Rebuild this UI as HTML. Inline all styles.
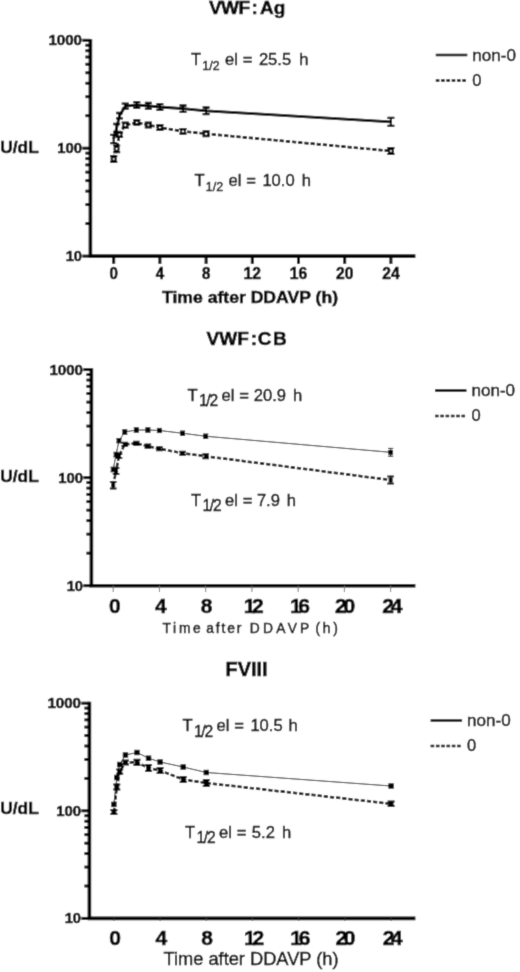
<!DOCTYPE html>
<html><head><meta charset="utf-8"><title>VWF:Ag, VWF:CB, FVIII after DDAVP</title>
<style>
html,body{margin:0;padding:0;background:#fff;}
svg{display:block;font-family:"Liberation Sans", Arial, sans-serif;}
svg text{fill:#000;}
.fig{width:520px;height:972px;overflow:hidden;}
</style></head><body>
<div class="fig"><svg width="520" height="972" viewBox="0 0 520 972">
<defs><filter id="soft" x="0" y="0" width="520" height="972" filterUnits="userSpaceOnUse"><feConvolveMatrix order="3" kernelMatrix="0.0192 0.1001 0.0192 0.1001 0.5228 0.1001 0.0192 0.1001 0.0192" edgeMode="duplicate" preserveAlpha="true"/></filter></defs>
<rect width="520" height="972" fill="#fff"/>
<g filter="url(#soft)">
<rect width="520" height="972" fill="#fff"/>
<path d="M90.4 38.9 V256.1 H415.4" fill="none" stroke="#000" stroke-width="3.6" stroke-linejoin="miter"/>
<line x1="82.4" x2="90.4" y1="40.30" y2="40.30" stroke="#000" stroke-width="3"/>
<line x1="82.4" x2="90.4" y1="148.20" y2="148.20" stroke="#000" stroke-width="3"/>
<line x1="82.4" x2="90.4" y1="256.10" y2="256.10" stroke="#000" stroke-width="3"/>
<line x1="85.4" x2="90.4" y1="115.72" y2="115.72" stroke="#000" stroke-width="2.9"/>
<line x1="85.4" x2="90.4" y1="96.72" y2="96.72" stroke="#000" stroke-width="2.9"/>
<line x1="85.4" x2="90.4" y1="83.24" y2="83.24" stroke="#000" stroke-width="2.9"/>
<line x1="85.4" x2="90.4" y1="72.78" y2="72.78" stroke="#000" stroke-width="2.9"/>
<line x1="85.4" x2="90.4" y1="64.24" y2="64.24" stroke="#000" stroke-width="2.9"/>
<line x1="85.4" x2="90.4" y1="57.01" y2="57.01" stroke="#000" stroke-width="2.9"/>
<line x1="85.4" x2="90.4" y1="50.76" y2="50.76" stroke="#000" stroke-width="2.9"/>
<line x1="85.4" x2="90.4" y1="45.24" y2="45.24" stroke="#000" stroke-width="2.9"/>
<line x1="85.4" x2="90.4" y1="223.62" y2="223.62" stroke="#000" stroke-width="2.9"/>
<line x1="85.4" x2="90.4" y1="204.62" y2="204.62" stroke="#000" stroke-width="2.9"/>
<line x1="85.4" x2="90.4" y1="191.14" y2="191.14" stroke="#000" stroke-width="2.9"/>
<line x1="85.4" x2="90.4" y1="180.68" y2="180.68" stroke="#000" stroke-width="2.9"/>
<line x1="85.4" x2="90.4" y1="172.14" y2="172.14" stroke="#000" stroke-width="2.9"/>
<line x1="85.4" x2="90.4" y1="164.91" y2="164.91" stroke="#000" stroke-width="2.9"/>
<line x1="85.4" x2="90.4" y1="158.66" y2="158.66" stroke="#000" stroke-width="2.9"/>
<line x1="85.4" x2="90.4" y1="153.14" y2="153.14" stroke="#000" stroke-width="2.9"/>
<line x1="113.70" x2="113.70" y1="256.1" y2="263.90000000000003" stroke="#000" stroke-width="3"/>
<line x1="159.90" x2="159.90" y1="256.1" y2="263.90000000000003" stroke="#000" stroke-width="3"/>
<line x1="206.10" x2="206.10" y1="256.1" y2="263.90000000000003" stroke="#000" stroke-width="3"/>
<line x1="252.30" x2="252.30" y1="256.1" y2="263.90000000000003" stroke="#000" stroke-width="3"/>
<line x1="298.50" x2="298.50" y1="256.1" y2="263.90000000000003" stroke="#000" stroke-width="3"/>
<line x1="344.70" x2="344.70" y1="256.1" y2="263.90000000000003" stroke="#000" stroke-width="3"/>
<line x1="390.90" x2="390.90" y1="256.1" y2="263.90000000000003" stroke="#000" stroke-width="3"/>
<text x="82.0" y="45.2" font-size="15.5" font-weight="bold" text-anchor="end" textLength="33.6" lengthAdjust="spacingAndGlyphs" stroke="#000" stroke-width="0.55">1000</text>
<text x="82.0" y="153.1" font-size="15.5" font-weight="bold" text-anchor="end" textLength="24.8" lengthAdjust="spacingAndGlyphs" stroke="#000" stroke-width="0.55">100</text>
<text x="82.0" y="261.0" font-size="15.5" font-weight="bold" text-anchor="end" textLength="16.3" lengthAdjust="spacingAndGlyphs" stroke="#000" stroke-width="0.55">10</text>
<text x="113.7" y="279.3" font-size="16.3" font-weight="bold" text-anchor="middle" textLength="8.4" lengthAdjust="spacingAndGlyphs" stroke="#000" stroke-width="0.55">0</text>
<text x="159.9" y="279.3" font-size="16.3" font-weight="bold" text-anchor="middle" textLength="8.4" lengthAdjust="spacingAndGlyphs" stroke="#000" stroke-width="0.55">4</text>
<text x="206.1" y="279.3" font-size="16.3" font-weight="bold" text-anchor="middle" textLength="8.4" lengthAdjust="spacingAndGlyphs" stroke="#000" stroke-width="0.55">8</text>
<text x="252.3" y="279.3" font-size="16.3" font-weight="bold" text-anchor="middle" textLength="17.4" lengthAdjust="spacingAndGlyphs" stroke="#000" stroke-width="0.55">12</text>
<text x="298.5" y="279.3" font-size="16.3" font-weight="bold" text-anchor="middle" textLength="17.4" lengthAdjust="spacingAndGlyphs" stroke="#000" stroke-width="0.55">16</text>
<text x="344.7" y="279.3" font-size="16.3" font-weight="bold" text-anchor="middle" textLength="17.4" lengthAdjust="spacingAndGlyphs" stroke="#000" stroke-width="0.55">20</text>
<text x="390.9" y="279.3" font-size="16.3" font-weight="bold" text-anchor="middle" textLength="17.4" lengthAdjust="spacingAndGlyphs" stroke="#000" stroke-width="0.55">24</text>
<path d="M113.70 139.00 L116.59 128.00 L119.48 115.70 L125.25 106.20 L136.80 105.00 L148.35 105.80 L159.90 107.00 L183.00 108.70 L206.10 110.80 L390.90 121.90" fill="none" stroke="#000" stroke-width="2.8" stroke-linejoin="round"/>
<path d="M113.70 134.80 V143.20" stroke="#000" stroke-width="2.2" fill="none"/>
<path d="M110.20 134.80 H117.20 M110.20 143.20 H117.20" stroke="#000" stroke-width="2.3" fill="none"/>
<path d="M116.59 124.00 V132.00" stroke="#000" stroke-width="2.2" fill="none"/>
<path d="M113.09 124.00 H120.09 M113.09 132.00 H120.09" stroke="#000" stroke-width="2.3" fill="none"/>
<path d="M119.48 113.00 V118.40" stroke="#000" stroke-width="2.2" fill="none"/>
<path d="M115.98 113.00 H122.98 M115.98 118.40 H122.98" stroke="#000" stroke-width="2.3" fill="none"/>
<path d="M125.25 103.70 V108.70" stroke="#000" stroke-width="2.2" fill="none"/>
<path d="M121.75 103.70 H128.75 M121.75 108.70 H128.75" stroke="#000" stroke-width="2.3" fill="none"/>
<path d="M136.80 102.10 V107.90" stroke="#000" stroke-width="2.2" fill="none"/>
<path d="M133.30 102.10 H140.30 M133.30 107.90 H140.30" stroke="#000" stroke-width="2.3" fill="none"/>
<path d="M148.35 103.00 V108.60" stroke="#000" stroke-width="2.2" fill="none"/>
<path d="M144.85 103.00 H151.85 M144.85 108.60 H151.85" stroke="#000" stroke-width="2.3" fill="none"/>
<path d="M159.90 104.10 V109.90" stroke="#000" stroke-width="2.2" fill="none"/>
<path d="M156.40 104.10 H163.40 M156.40 109.90 H163.40" stroke="#000" stroke-width="2.3" fill="none"/>
<path d="M183.00 105.50 V111.90" stroke="#000" stroke-width="2.2" fill="none"/>
<path d="M179.50 105.50 H186.50 M179.50 111.90 H186.50" stroke="#000" stroke-width="2.3" fill="none"/>
<path d="M206.10 107.50 V114.10" stroke="#000" stroke-width="2.2" fill="none"/>
<path d="M202.60 107.50 H209.60 M202.60 114.10 H209.60" stroke="#000" stroke-width="2.3" fill="none"/>
<path d="M390.90 117.90 V125.90" stroke="#000" stroke-width="2.2" fill="none"/>
<path d="M387.40 117.90 H394.40 M387.40 125.90 H394.40" stroke="#000" stroke-width="2.3" fill="none"/>
<path d="M113.70 159.00 L116.59 148.80 L119.48 134.70 L125.25 125.10 L136.80 122.50 L148.35 125.00 L159.90 127.50 L183.00 131.30 L206.10 133.80 L390.90 151.00" fill="none" stroke="#000" stroke-width="2.6" stroke-dasharray="4.2 2" stroke-linejoin="round"/>
<path d="M113.70 156.20 V161.80" stroke="#000" stroke-width="2.2" fill="none"/>
<path d="M110.10 156.20 H117.30 M110.10 161.80 H117.30" stroke="#000" stroke-width="2.2" fill="none"/>
<rect x="111.70" y="157.10" width="4.0" height="3.8" rx="1" fill="#fff" stroke="#000" stroke-width="2.1"/>
<path d="M116.59 145.50 V152.10" stroke="#000" stroke-width="2.2" fill="none"/>
<path d="M112.99 145.50 H120.19 M112.99 152.10 H120.19" stroke="#000" stroke-width="2.2" fill="none"/>
<rect x="114.59" y="146.90" width="4.0" height="3.8" rx="1" fill="#fff" stroke="#000" stroke-width="2.1"/>
<path d="M119.48 132.40 V137.00" stroke="#000" stroke-width="2.2" fill="none"/>
<path d="M115.88 132.40 H123.08 M115.88 137.00 H123.08" stroke="#000" stroke-width="2.2" fill="none"/>
<rect x="117.48" y="132.80" width="4.0" height="3.8" rx="1" fill="#fff" stroke="#000" stroke-width="2.1"/>
<path d="M125.25 122.50 V127.70" stroke="#000" stroke-width="2.2" fill="none"/>
<path d="M121.65 122.50 H128.85 M121.65 127.70 H128.85" stroke="#000" stroke-width="2.2" fill="none"/>
<rect x="123.25" y="123.20" width="4.0" height="3.8" rx="1" fill="#fff" stroke="#000" stroke-width="2.1"/>
<path d="M136.80 120.30 V124.70" stroke="#000" stroke-width="2.2" fill="none"/>
<path d="M133.20 120.30 H140.40 M133.20 124.70 H140.40" stroke="#000" stroke-width="2.2" fill="none"/>
<rect x="134.80" y="120.60" width="4.0" height="3.8" rx="1" fill="#fff" stroke="#000" stroke-width="2.1"/>
<path d="M148.35 122.70 V127.30" stroke="#000" stroke-width="2.2" fill="none"/>
<path d="M144.75 122.70 H151.95 M144.75 127.30 H151.95" stroke="#000" stroke-width="2.2" fill="none"/>
<rect x="146.35" y="123.10" width="4.0" height="3.8" rx="1" fill="#fff" stroke="#000" stroke-width="2.1"/>
<path d="M159.90 125.20 V129.80" stroke="#000" stroke-width="2.2" fill="none"/>
<path d="M156.30 125.20 H163.50 M156.30 129.80 H163.50" stroke="#000" stroke-width="2.2" fill="none"/>
<rect x="157.90" y="125.60" width="4.0" height="3.8" rx="1" fill="#fff" stroke="#000" stroke-width="2.1"/>
<path d="M183.00 129.00 V133.60" stroke="#000" stroke-width="2.2" fill="none"/>
<path d="M179.40 129.00 H186.60 M179.40 133.60 H186.60" stroke="#000" stroke-width="2.2" fill="none"/>
<rect x="181.00" y="129.40" width="4.0" height="3.8" rx="1" fill="#fff" stroke="#000" stroke-width="2.1"/>
<path d="M206.10 131.40 V136.20" stroke="#000" stroke-width="2.2" fill="none"/>
<path d="M202.50 131.40 H209.70 M202.50 136.20 H209.70" stroke="#000" stroke-width="2.2" fill="none"/>
<rect x="204.10" y="131.90" width="4.0" height="3.8" rx="1" fill="#fff" stroke="#000" stroke-width="2.1"/>
<path d="M390.90 148.00 V154.00" stroke="#000" stroke-width="2.2" fill="none"/>
<path d="M387.30 148.00 H394.50 M387.30 154.00 H394.50" stroke="#000" stroke-width="2.2" fill="none"/>
<rect x="388.90" y="149.10" width="4.0" height="3.8" rx="1" fill="#fff" stroke="#000" stroke-width="2.1"/>
<line x1="435.8" x2="467.3" y1="55" y2="55" stroke="#000" stroke-width="2.6"/>
<line x1="435.8" x2="467.3" y1="80.5" y2="80.5" stroke="#000" stroke-width="2.4" stroke-dasharray="3.6 1.7"/>
<text x="472.3" y="60.8" font-size="17" font-weight="normal" text-anchor="start" textLength="43.6" lengthAdjust="spacingAndGlyphs" stroke="#000" stroke-width="0.4">non-0</text>
<text x="472.3" y="85.8" font-size="17" font-weight="normal" text-anchor="start" textLength="9.2" lengthAdjust="spacingAndGlyphs" stroke="#000" stroke-width="0.4">0</text>
<text x="0.3" y="152.7" font-size="17.0" font-weight="bold" text-anchor="start" textLength="38.4" lengthAdjust="spacingAndGlyphs" stroke="#000" stroke-width="0.55">U/dL</text>
<text x="209.0" y="14.4" font-size="19" font-weight="bold" text-anchor="start" stroke="#000" stroke-width="0.55"><tspan letter-spacing="-0.6">VWF</tspan><tspan dx="2.2">:</tspan><tspan dx="2.0">Ag</tspan></text>
<text x="191.0" y="64.5" font-size="16.6" stroke="#000" stroke-width="0.4">T<tspan x="202.3" dy="5" font-size="12.4">1/2</tspan><tspan x="225.0" dy="-5">el</tspan><tspan x="242.8">=</tspan><tspan x="258.9">25.5</tspan><tspan x="299.17">h</tspan></text>
<text x="194.5" y="185.7" font-size="16.6" stroke="#000" stroke-width="0.4">T<tspan x="205.8" dy="5" font-size="12.4">1/2</tspan><tspan x="228.5" dy="-5">el</tspan><tspan x="246.3">=</tspan><tspan x="262.4">10.0</tspan><tspan x="301.67">h</tspan></text>
<text x="162.0" y="303" font-size="17.4" font-weight="bold" text-anchor="start" textLength="176" lengthAdjust="spacingAndGlyphs" stroke="#000" stroke-width="0.55">Time after DDAVP (h)</text>
<path d="M91.4 368.20000000000005 V585.7 H415.4" fill="none" stroke="#000" stroke-width="3.6" stroke-linejoin="miter"/>
<line x1="83.4" x2="91.4" y1="369.60" y2="369.60" stroke="#000" stroke-width="3"/>
<line x1="83.4" x2="91.4" y1="477.65" y2="477.65" stroke="#000" stroke-width="3"/>
<line x1="83.4" x2="91.4" y1="585.70" y2="585.70" stroke="#000" stroke-width="3"/>
<line x1="86.4" x2="91.4" y1="445.12" y2="445.12" stroke="#000" stroke-width="2.9"/>
<line x1="86.4" x2="91.4" y1="426.10" y2="426.10" stroke="#000" stroke-width="2.9"/>
<line x1="86.4" x2="91.4" y1="412.60" y2="412.60" stroke="#000" stroke-width="2.9"/>
<line x1="86.4" x2="91.4" y1="402.13" y2="402.13" stroke="#000" stroke-width="2.9"/>
<line x1="86.4" x2="91.4" y1="393.57" y2="393.57" stroke="#000" stroke-width="2.9"/>
<line x1="86.4" x2="91.4" y1="386.34" y2="386.34" stroke="#000" stroke-width="2.9"/>
<line x1="86.4" x2="91.4" y1="380.07" y2="380.07" stroke="#000" stroke-width="2.9"/>
<line x1="86.4" x2="91.4" y1="374.54" y2="374.54" stroke="#000" stroke-width="2.9"/>
<line x1="86.4" x2="91.4" y1="553.17" y2="553.17" stroke="#000" stroke-width="2.9"/>
<line x1="86.4" x2="91.4" y1="534.15" y2="534.15" stroke="#000" stroke-width="2.9"/>
<line x1="86.4" x2="91.4" y1="520.65" y2="520.65" stroke="#000" stroke-width="2.9"/>
<line x1="86.4" x2="91.4" y1="510.18" y2="510.18" stroke="#000" stroke-width="2.9"/>
<line x1="86.4" x2="91.4" y1="501.62" y2="501.62" stroke="#000" stroke-width="2.9"/>
<line x1="86.4" x2="91.4" y1="494.39" y2="494.39" stroke="#000" stroke-width="2.9"/>
<line x1="86.4" x2="91.4" y1="488.12" y2="488.12" stroke="#000" stroke-width="2.9"/>
<line x1="86.4" x2="91.4" y1="482.59" y2="482.59" stroke="#000" stroke-width="2.9"/>
<line x1="113.20" x2="113.20" y1="585.7" y2="592.0" stroke="#777" stroke-width="1"/>
<line x1="159.44" x2="159.44" y1="585.7" y2="592.0" stroke="#777" stroke-width="1"/>
<line x1="205.68" x2="205.68" y1="585.7" y2="592.0" stroke="#777" stroke-width="1"/>
<line x1="251.92" x2="251.92" y1="585.7" y2="592.0" stroke="#777" stroke-width="1"/>
<line x1="298.16" x2="298.16" y1="585.7" y2="592.0" stroke="#777" stroke-width="1"/>
<line x1="344.40" x2="344.40" y1="585.7" y2="592.0" stroke="#777" stroke-width="1"/>
<line x1="390.64" x2="390.64" y1="585.7" y2="592.0" stroke="#777" stroke-width="1"/>
<text x="83.0" y="374.5" font-size="15.5" font-weight="bold" text-anchor="end" textLength="33.6" lengthAdjust="spacingAndGlyphs" stroke="#000" stroke-width="0.55">1000</text>
<text x="83.0" y="482.55" font-size="15.5" font-weight="bold" text-anchor="end" textLength="24.8" lengthAdjust="spacingAndGlyphs" stroke="#000" stroke-width="0.55">100</text>
<text x="83.0" y="590.6" font-size="15.5" font-weight="bold" text-anchor="end" textLength="16.3" lengthAdjust="spacingAndGlyphs" stroke="#000" stroke-width="0.55">10</text>
<text x="108.96" y="612.6" font-size="21" font-weight="bold" text-anchor="start" stroke="#000" stroke-width="0.55">0</text>
<text x="155.1" y="612.6" font-size="21" font-weight="bold" text-anchor="start" stroke="#000" stroke-width="0.55">4</text>
<text x="200.8" y="612.6" font-size="21" font-weight="bold" text-anchor="start" stroke="#000" stroke-width="0.55">8</text>
<text x="243.7" y="612.6" font-size="21" font-weight="bold" text-anchor="start" letter-spacing="-3.3" stroke="#000" stroke-width="0.55">12</text>
<text x="289.9" y="612.6" font-size="21" font-weight="bold" text-anchor="start" letter-spacing="-3.3" stroke="#000" stroke-width="0.55">16</text>
<text x="335.0" y="612.6" font-size="21" font-weight="bold" text-anchor="start" letter-spacing="-3.3" stroke="#000" stroke-width="0.55">20</text>
<text x="382.3" y="612.6" font-size="21" font-weight="bold" text-anchor="start" letter-spacing="-3.3" stroke="#000" stroke-width="0.55">24</text>
<path d="M113.20 469.50 L116.09 454.60 L118.98 440.70 L124.76 432.00 L136.32 430.00 L147.88 430.00 L159.44 430.50 L182.56 433.25 L205.68 436.25 L390.64 452.30" fill="none" stroke="#222" stroke-width="1" stroke-linejoin="round"/>
<path d="M113.20 467.20 V471.80" stroke="#000" stroke-width="1" fill="none"/>
<path d="M110.60 467.20 H115.80 M110.60 471.80 H115.80" stroke="#000" stroke-width="1" fill="none"/>
<rect x="110.80" y="467.10" width="4.8" height="4.8" fill="#000"/>
<path d="M116.09 452.30 V456.90" stroke="#000" stroke-width="1" fill="none"/>
<path d="M113.49 452.30 H118.69 M113.49 456.90 H118.69" stroke="#000" stroke-width="1" fill="none"/>
<rect x="113.69" y="452.20" width="4.8" height="4.8" fill="#000"/>
<path d="M118.98 438.60 V442.80" stroke="#000" stroke-width="1" fill="none"/>
<path d="M116.38 438.60 H121.58 M116.38 442.80 H121.58" stroke="#000" stroke-width="1" fill="none"/>
<rect x="116.58" y="438.30" width="4.8" height="4.8" fill="#000"/>
<path d="M124.76 429.90 V434.10" stroke="#000" stroke-width="1" fill="none"/>
<path d="M122.16 429.90 H127.36 M122.16 434.10 H127.36" stroke="#000" stroke-width="1" fill="none"/>
<rect x="122.36" y="429.60" width="4.8" height="4.8" fill="#000"/>
<path d="M136.32 427.90 V432.10" stroke="#000" stroke-width="1" fill="none"/>
<path d="M133.72 427.90 H138.92 M133.72 432.10 H138.92" stroke="#000" stroke-width="1" fill="none"/>
<rect x="133.92" y="427.60" width="4.8" height="4.8" fill="#000"/>
<path d="M147.88 427.90 V432.10" stroke="#000" stroke-width="1" fill="none"/>
<path d="M145.28 427.90 H150.48 M145.28 432.10 H150.48" stroke="#000" stroke-width="1" fill="none"/>
<rect x="145.48" y="427.60" width="4.8" height="4.8" fill="#000"/>
<path d="M159.44 428.40 V432.60" stroke="#000" stroke-width="1" fill="none"/>
<path d="M156.84 428.40 H162.04 M156.84 432.60 H162.04" stroke="#000" stroke-width="1" fill="none"/>
<rect x="157.04" y="428.10" width="4.8" height="4.8" fill="#000"/>
<path d="M182.56 431.15 V435.35" stroke="#000" stroke-width="1" fill="none"/>
<path d="M179.96 431.15 H185.16 M179.96 435.35 H185.16" stroke="#000" stroke-width="1" fill="none"/>
<rect x="180.16" y="430.85" width="4.8" height="4.8" fill="#000"/>
<path d="M205.68 434.15 V438.35" stroke="#000" stroke-width="1" fill="none"/>
<path d="M203.08 434.15 H208.28 M203.08 438.35 H208.28" stroke="#000" stroke-width="1" fill="none"/>
<rect x="203.28" y="433.85" width="4.8" height="4.8" fill="#000"/>
<path d="M390.64 448.40 V456.20" stroke="#000" stroke-width="1" fill="none"/>
<path d="M388.04 448.40 H393.24 M388.04 456.20 H393.24" stroke="#000" stroke-width="1" fill="none"/>
<rect x="388.24" y="449.90" width="4.8" height="4.8" fill="#000"/>
<path d="M113.20 485.20 L116.09 471.00 L118.98 456.00 L124.76 444.30 L136.32 443.30 L147.88 446.20 L159.44 448.75 L182.56 453.25 L205.68 456.25 L390.64 480.00" fill="none" stroke="#000" stroke-width="2.5" stroke-dasharray="4.2 2" stroke-linejoin="round"/>
<path d="M113.20 482.00 V488.40" stroke="#000" stroke-width="2.0" fill="none"/>
<path d="M109.90 482.00 H116.50 M109.90 488.40 H116.50" stroke="#000" stroke-width="2.0" fill="none"/>
<rect x="111.20" y="483.20" width="4.0" height="4.0" fill="#000"/>
<path d="M116.09 467.90 V474.10" stroke="#000" stroke-width="2.0" fill="none"/>
<path d="M112.79 467.90 H119.39 M112.79 474.10 H119.39" stroke="#000" stroke-width="2.0" fill="none"/>
<rect x="114.09" y="469.00" width="4.0" height="4.0" fill="#000"/>
<path d="M118.98 453.90 V458.10" stroke="#000" stroke-width="2.0" fill="none"/>
<path d="M115.68 453.90 H122.28 M115.68 458.10 H122.28" stroke="#000" stroke-width="2.0" fill="none"/>
<rect x="116.98" y="454.00" width="4.0" height="4.0" fill="#000"/>
<path d="M124.76 442.70 V445.90" stroke="#000" stroke-width="2.0" fill="none"/>
<path d="M121.46 442.70 H128.06 M121.46 445.90 H128.06" stroke="#000" stroke-width="2.0" fill="none"/>
<rect x="122.76" y="442.30" width="4.0" height="4.0" fill="#000"/>
<path d="M136.32 441.70 V444.90" stroke="#000" stroke-width="2.0" fill="none"/>
<path d="M133.02 441.70 H139.62 M133.02 444.90 H139.62" stroke="#000" stroke-width="2.0" fill="none"/>
<rect x="134.32" y="441.30" width="4.0" height="4.0" fill="#000"/>
<path d="M147.88 444.60 V447.80" stroke="#000" stroke-width="2.0" fill="none"/>
<path d="M144.58 444.60 H151.18 M144.58 447.80 H151.18" stroke="#000" stroke-width="2.0" fill="none"/>
<rect x="145.88" y="444.20" width="4.0" height="4.0" fill="#000"/>
<path d="M159.44 447.15 V450.35" stroke="#000" stroke-width="2.0" fill="none"/>
<path d="M156.14 447.15 H162.74 M156.14 450.35 H162.74" stroke="#000" stroke-width="2.0" fill="none"/>
<rect x="157.44" y="446.75" width="4.0" height="4.0" fill="#000"/>
<path d="M182.56 451.65 V454.85" stroke="#000" stroke-width="2.0" fill="none"/>
<path d="M179.26 451.65 H185.86 M179.26 454.85 H185.86" stroke="#000" stroke-width="2.0" fill="none"/>
<rect x="180.56" y="451.25" width="4.0" height="4.0" fill="#000"/>
<path d="M205.68 454.15 V458.35" stroke="#000" stroke-width="2.0" fill="none"/>
<path d="M202.38 454.15 H208.98 M202.38 458.35 H208.98" stroke="#000" stroke-width="2.0" fill="none"/>
<rect x="203.68" y="454.25" width="4.0" height="4.0" fill="#000"/>
<path d="M390.64 476.60 V483.40" stroke="#000" stroke-width="2.0" fill="none"/>
<path d="M387.34 476.60 H393.94 M387.34 483.40 H393.94" stroke="#000" stroke-width="2.0" fill="none"/>
<rect x="388.64" y="478.00" width="4.0" height="4.0" fill="#000"/>
<line x1="435" x2="466.5" y1="390.5" y2="390.5" stroke="#000" stroke-width="2.6"/>
<line x1="435" x2="466.5" y1="416.0" y2="416.0" stroke="#000" stroke-width="2.4" stroke-dasharray="3.6 1.7"/>
<text x="471.5" y="396.3" font-size="17" font-weight="normal" text-anchor="start" textLength="43.6" lengthAdjust="spacingAndGlyphs" stroke="#000" stroke-width="0.4">non-0</text>
<text x="471.5" y="421.3" font-size="17" font-weight="normal" text-anchor="start" textLength="9.2" lengthAdjust="spacingAndGlyphs" stroke="#000" stroke-width="0.4">0</text>
<text x="0.3" y="481.9" font-size="17.0" font-weight="bold" text-anchor="start" textLength="38.4" lengthAdjust="spacingAndGlyphs" stroke="#000" stroke-width="0.55">U/dL</text>
<text x="206.6" y="344.5" font-size="19" font-weight="bold" text-anchor="start" stroke="#000" stroke-width="0.55">VWF<tspan dx="2.0">:</tspan><tspan dx="0.7" letter-spacing="1.5">CB</tspan></text>
<text x="187.5" y="400.5" font-size="16.6" stroke="#000" stroke-width="0.4">T<tspan x="198.9" dy="5.3" font-size="15.6" letter-spacing="-1.25">1/2</tspan><tspan x="221.5" dy="-5.3">el</tspan><tspan x="239.3">=</tspan><tspan x="253.8">20.9</tspan><tspan x="293.07">h</tspan></text>
<text x="191.0" y="505.5" font-size="16.6" stroke="#000" stroke-width="0.4">T<tspan x="202.4" dy="5.3" font-size="15.6" letter-spacing="-1.25">1/2</tspan><tspan x="225.0" dy="-5.3">el</tspan><tspan x="242.8">=</tspan><tspan x="256.9">7.9</tspan><tspan x="286.77">h</tspan></text>
<text x="162.4" y="633.3" font-size="13.8" textLength="38.4" lengthAdjust="spacing" stroke="#000" stroke-width="0.45">Time</text>
<text x="206.3" y="633.3" font-size="13.8" textLength="35.0" lengthAdjust="spacing" stroke="#000" stroke-width="0.45">after</text>
<text x="249.7" y="633.3" font-size="13.8" textLength="59.6" lengthAdjust="spacing" stroke="#000" stroke-width="0.45">DDAVP</text>
<text x="315.6" y="633.3" font-size="13.8" textLength="22.2" lengthAdjust="spacing" stroke="#000" stroke-width="0.45">(h)</text>
<path d="M89.4 701.8000000000001 V918.4 H415.4" fill="none" stroke="#000" stroke-width="3.6" stroke-linejoin="miter"/>
<line x1="81.4" x2="89.4" y1="703.20" y2="703.20" stroke="#000" stroke-width="3"/>
<line x1="81.4" x2="89.4" y1="810.80" y2="810.80" stroke="#000" stroke-width="3"/>
<line x1="81.4" x2="89.4" y1="918.40" y2="918.40" stroke="#000" stroke-width="3"/>
<line x1="84.4" x2="89.4" y1="778.41" y2="778.41" stroke="#000" stroke-width="2.9"/>
<line x1="84.4" x2="89.4" y1="759.46" y2="759.46" stroke="#000" stroke-width="2.9"/>
<line x1="84.4" x2="89.4" y1="746.02" y2="746.02" stroke="#000" stroke-width="2.9"/>
<line x1="84.4" x2="89.4" y1="735.59" y2="735.59" stroke="#000" stroke-width="2.9"/>
<line x1="84.4" x2="89.4" y1="727.07" y2="727.07" stroke="#000" stroke-width="2.9"/>
<line x1="84.4" x2="89.4" y1="719.87" y2="719.87" stroke="#000" stroke-width="2.9"/>
<line x1="84.4" x2="89.4" y1="713.63" y2="713.63" stroke="#000" stroke-width="2.9"/>
<line x1="84.4" x2="89.4" y1="708.12" y2="708.12" stroke="#000" stroke-width="2.9"/>
<line x1="84.4" x2="89.4" y1="886.01" y2="886.01" stroke="#000" stroke-width="2.9"/>
<line x1="84.4" x2="89.4" y1="867.06" y2="867.06" stroke="#000" stroke-width="2.9"/>
<line x1="84.4" x2="89.4" y1="853.62" y2="853.62" stroke="#000" stroke-width="2.9"/>
<line x1="84.4" x2="89.4" y1="843.19" y2="843.19" stroke="#000" stroke-width="2.9"/>
<line x1="84.4" x2="89.4" y1="834.67" y2="834.67" stroke="#000" stroke-width="2.9"/>
<line x1="84.4" x2="89.4" y1="827.47" y2="827.47" stroke="#000" stroke-width="2.9"/>
<line x1="84.4" x2="89.4" y1="821.23" y2="821.23" stroke="#000" stroke-width="2.9"/>
<line x1="84.4" x2="89.4" y1="815.72" y2="815.72" stroke="#000" stroke-width="2.9"/>
<line x1="113.90" x2="113.90" y1="918.4" y2="921.0" stroke="#555" stroke-width="1"/>
<line x1="160.10" x2="160.10" y1="918.4" y2="921.0" stroke="#555" stroke-width="1"/>
<line x1="206.30" x2="206.30" y1="918.4" y2="921.0" stroke="#555" stroke-width="1"/>
<line x1="252.50" x2="252.50" y1="918.4" y2="921.0" stroke="#555" stroke-width="1"/>
<line x1="298.70" x2="298.70" y1="918.4" y2="921.0" stroke="#555" stroke-width="1"/>
<line x1="344.90" x2="344.90" y1="918.4" y2="921.0" stroke="#555" stroke-width="1"/>
<line x1="391.10" x2="391.10" y1="918.4" y2="921.0" stroke="#555" stroke-width="1"/>
<text x="81.0" y="708.1" font-size="15.5" font-weight="bold" text-anchor="end" textLength="33.6" lengthAdjust="spacingAndGlyphs" stroke="#000" stroke-width="0.55">1000</text>
<text x="81.0" y="815.7" font-size="15.5" font-weight="bold" text-anchor="end" textLength="24.8" lengthAdjust="spacingAndGlyphs" stroke="#000" stroke-width="0.55">100</text>
<text x="81.0" y="923.3" font-size="15.5" font-weight="bold" text-anchor="end" textLength="16.3" lengthAdjust="spacingAndGlyphs" stroke="#000" stroke-width="0.55">10</text>
<text x="109.36" y="944.7" font-size="21" font-weight="bold" text-anchor="start" stroke="#000" stroke-width="0.55">0</text>
<text x="155.5" y="944.7" font-size="21" font-weight="bold" text-anchor="start" stroke="#000" stroke-width="0.55">4</text>
<text x="201.2" y="944.7" font-size="21" font-weight="bold" text-anchor="start" stroke="#000" stroke-width="0.55">8</text>
<text x="244.1" y="944.7" font-size="21" font-weight="bold" text-anchor="start" letter-spacing="-3.3" stroke="#000" stroke-width="0.55">12</text>
<text x="290.3" y="944.7" font-size="21" font-weight="bold" text-anchor="start" letter-spacing="-3.3" stroke="#000" stroke-width="0.55">16</text>
<text x="335.4" y="944.7" font-size="21" font-weight="bold" text-anchor="start" letter-spacing="-3.3" stroke="#000" stroke-width="0.55">20</text>
<text x="382.7" y="944.7" font-size="21" font-weight="bold" text-anchor="start" letter-spacing="-3.3" stroke="#000" stroke-width="0.55">24</text>
<path d="M113.90 804.40 L116.79 777.50 L119.68 764.50 L125.45 755.00 L137.00 752.50 L148.55 758.20 L160.10 762.00 L183.20 767.00 L206.30 772.50 L391.10 786.00" fill="none" stroke="#222" stroke-width="1" stroke-linejoin="round"/>
<rect x="111.20" y="801.70" width="5.4" height="5.4" fill="#000"/>
<rect x="114.09" y="774.80" width="5.4" height="5.4" fill="#000"/>
<rect x="116.98" y="761.80" width="5.4" height="5.4" fill="#000"/>
<rect x="122.75" y="752.30" width="5.4" height="5.4" fill="#000"/>
<rect x="134.30" y="749.80" width="5.4" height="5.4" fill="#000"/>
<rect x="145.85" y="755.50" width="5.4" height="5.4" fill="#000"/>
<rect x="157.40" y="759.30" width="5.4" height="5.4" fill="#000"/>
<rect x="180.50" y="764.30" width="5.4" height="5.4" fill="#000"/>
<rect x="203.60" y="769.80" width="5.4" height="5.4" fill="#000"/>
<rect x="388.40" y="783.30" width="5.4" height="5.4" fill="#000"/>
<path d="M113.90 812.00 L116.79 787.00 L119.68 771.70 L125.45 762.50 L137.00 762.30 L148.55 768.00 L160.10 770.50 L183.20 779.50 L206.30 783.00 L391.10 803.80" fill="none" stroke="#000" stroke-width="2.5" stroke-dasharray="4.2 2" stroke-linejoin="round"/>
<path d="M113.90 809.90 V814.10" stroke="#000" stroke-width="2.0" fill="none"/>
<path d="M110.40 809.90 H117.40 M110.40 814.10 H117.40" stroke="#000" stroke-width="2.0" fill="none"/>
<rect x="111.40" y="809.50" width="5.0" height="5.0" fill="#000"/>
<path d="M116.79 784.40 V789.60" stroke="#000" stroke-width="2.0" fill="none"/>
<path d="M113.29 784.40 H120.29 M113.29 789.60 H120.29" stroke="#000" stroke-width="2.0" fill="none"/>
<rect x="114.29" y="784.50" width="5.0" height="5.0" fill="#000"/>
<path d="M119.68 769.60 V773.80" stroke="#000" stroke-width="2.0" fill="none"/>
<path d="M116.18 769.60 H123.18 M116.18 773.80 H123.18" stroke="#000" stroke-width="2.0" fill="none"/>
<rect x="117.18" y="769.20" width="5.0" height="5.0" fill="#000"/>
<path d="M125.45 760.40 V764.60" stroke="#000" stroke-width="2.0" fill="none"/>
<path d="M121.95 760.40 H128.95 M121.95 764.60 H128.95" stroke="#000" stroke-width="2.0" fill="none"/>
<rect x="122.95" y="760.00" width="5.0" height="5.0" fill="#000"/>
<path d="M137.00 759.70 V764.90" stroke="#000" stroke-width="2.0" fill="none"/>
<path d="M133.50 759.70 H140.50 M133.50 764.90 H140.50" stroke="#000" stroke-width="2.0" fill="none"/>
<rect x="134.50" y="759.80" width="5.0" height="5.0" fill="#000"/>
<path d="M148.55 764.90 V771.10" stroke="#000" stroke-width="2.0" fill="none"/>
<path d="M145.05 764.90 H152.05 M145.05 771.10 H152.05" stroke="#000" stroke-width="2.0" fill="none"/>
<rect x="146.05" y="765.50" width="5.0" height="5.0" fill="#000"/>
<path d="M160.10 767.90 V773.10" stroke="#000" stroke-width="2.0" fill="none"/>
<path d="M156.60 767.90 H163.60 M156.60 773.10 H163.60" stroke="#000" stroke-width="2.0" fill="none"/>
<rect x="157.60" y="768.00" width="5.0" height="5.0" fill="#000"/>
<path d="M183.20 776.90 V782.10" stroke="#000" stroke-width="2.0" fill="none"/>
<path d="M179.70 776.90 H186.70 M179.70 782.10 H186.70" stroke="#000" stroke-width="2.0" fill="none"/>
<rect x="180.70" y="777.00" width="5.0" height="5.0" fill="#000"/>
<path d="M206.30 779.90 V786.10" stroke="#000" stroke-width="2.0" fill="none"/>
<path d="M202.80 779.90 H209.80 M202.80 786.10 H209.80" stroke="#000" stroke-width="2.0" fill="none"/>
<rect x="203.80" y="780.50" width="5.0" height="5.0" fill="#000"/>
<path d="M391.10 801.50 V806.10" stroke="#000" stroke-width="2.0" fill="none"/>
<path d="M387.60 801.50 H394.60 M387.60 806.10 H394.60" stroke="#000" stroke-width="2.0" fill="none"/>
<rect x="388.60" y="801.30" width="5.0" height="5.0" fill="#000"/>
<line x1="430.6" x2="462.1" y1="720.5" y2="720.5" stroke="#000" stroke-width="2.6"/>
<line x1="430.6" x2="462.1" y1="746.0" y2="746.0" stroke="#000" stroke-width="2.4" stroke-dasharray="3.6 1.7"/>
<text x="467.1" y="726.3" font-size="17" font-weight="normal" text-anchor="start" textLength="43.6" lengthAdjust="spacingAndGlyphs" stroke="#000" stroke-width="0.4">non-0</text>
<text x="467.1" y="751.3" font-size="17" font-weight="normal" text-anchor="start" textLength="9.2" lengthAdjust="spacingAndGlyphs" stroke="#000" stroke-width="0.4">0</text>
<text x="0.3" y="814.2" font-size="17.0" font-weight="bold" text-anchor="start" textLength="38.4" lengthAdjust="spacingAndGlyphs" stroke="#000" stroke-width="0.55">U/dL</text>
<text x="225.6" y="676.3" font-size="19.3" font-weight="bold" text-anchor="start" textLength="42" lengthAdjust="spacingAndGlyphs" stroke="#000" stroke-width="0.55">FVIII</text>
<text x="182.5" y="731.2" font-size="16.6" stroke="#000" stroke-width="0.4">T<tspan x="193.9" dy="5.3" font-size="15.6" letter-spacing="-1.25">1/2</tspan><tspan x="216.5" dy="-5.3">el</tspan><tspan x="234.3">=</tspan><tspan x="250.4">10.5</tspan><tspan x="288.57">h</tspan></text>
<text x="185" y="838" font-size="16.6" stroke="#000" stroke-width="0.4">T<tspan x="196.4" dy="5.3" font-size="15.6" letter-spacing="-1.25">1/2</tspan><tspan x="219.0" dy="-5.3">el</tspan><tspan x="236.8">=</tspan><tspan x="251.8">5.2</tspan><tspan x="282.07">h</tspan></text>
<text x="251" y="965.3" font-size="18" font-weight="normal" text-anchor="middle" textLength="175" lengthAdjust="spacingAndGlyphs" stroke="#000" stroke-width="0.4">Time after DDAVP (h)</text>
</g>
</svg></div>
</body></html>
